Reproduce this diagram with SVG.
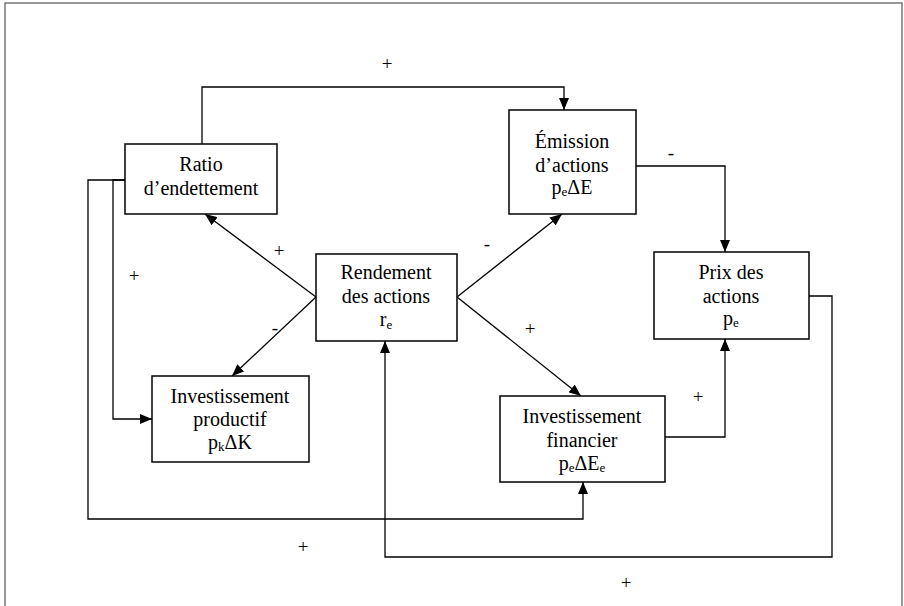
<svg xmlns="http://www.w3.org/2000/svg" width="904" height="606" viewBox="0 0 904 606">
<defs>
<style>
.box{fill:#fff;stroke:#000;stroke-width:1.5}
.ln{fill:none;stroke:#000;stroke-width:1.3}
.t{font-family:'Liberation Serif','Times New Roman',Times,serif;font-size:20px;fill:#000;text-anchor:middle}
.s{font-size:13px}
.lbl{font-family:'Liberation Serif','Times New Roman',Times,serif;font-size:19px;fill:#000;text-anchor:middle}
</style>
<marker id="ah" viewBox="0 0 12 10" refX="12" refY="5" markerWidth="12" markerHeight="10" markerUnits="userSpaceOnUse" orient="auto">
<path d="M0,0 L12,5 L0,10 z" fill="#000"/>
</marker>
</defs>
<rect x="5" y="3" width="897" height="610" fill="#fff" stroke="#555" stroke-width="1.2"/>

<g id="connectors">
<polyline class="ln" points="202,144 202,87 564,87 564,110" marker-end="url(#ah)"/>
<polyline class="ln" points="636,166 725,166 725,252" marker-end="url(#ah)"/>
<line class="ln" x1="316" y1="297" x2="205" y2="214" marker-end="url(#ah)"/>
<line class="ln" x1="316" y1="297" x2="232" y2="376" marker-end="url(#ah)"/>
<line class="ln" x1="457" y1="297" x2="562" y2="214" marker-end="url(#ah)"/>
<line class="ln" x1="457" y1="297" x2="581" y2="396" marker-end="url(#ah)"/>
<polyline class="ln" points="125,180 88,180 88,519 583,519 583,482" marker-end="url(#ah)"/>
<polyline class="ln" points="125,180 113,180 113,419 152,419" marker-end="url(#ah)"/>
<polyline class="ln" points="809,296 832,296 832,557 385,557 385,341" marker-end="url(#ah)"/>
<polyline class="ln" points="665,437 725,437 725,339" marker-end="url(#ah)"/>
<text class="lbl" x="387" y="70">+</text>
<text class="lbl" x="671" y="159">-</text>
<text class="lbl" x="279" y="257">+</text>
<text class="lbl" x="275" y="334">-</text>
<text class="lbl" x="487" y="250">-</text>
<text class="lbl" x="530" y="335">+</text>
<text class="lbl" x="134" y="282">+</text>
<text class="lbl" x="303" y="553">+</text>
<text class="lbl" x="698" y="403">+</text>
<text class="lbl" x="626" y="589">+</text>
</g>

<g id="ratio">
<rect class="box" x="125" y="144" width="152" height="70"/>
<text class="t" x="201" y="171">Ratio</text>
<text class="t" x="201" y="195">d’endettement</text>
</g>

<g id="emission">
<rect class="box" x="509" y="110" width="127" height="104"/>
<text class="t" x="572" y="148">Émission</text>
<text class="t" x="572" y="172">d’actions</text>
<text class="t" x="572" y="194">p<tspan class="s" dy="2">e</tspan><tspan dy="-2">ΔE</tspan></text>
</g>

<g id="rendement">
<rect class="box" x="316" y="254" width="141" height="87"/>
<text class="t" x="386" y="279">Rendement</text>
<text class="t" x="386" y="303">des actions</text>
<text class="t" x="386" y="326">r<tspan class="s" dy="3">e</tspan></text>
</g>

<g id="prix">
<rect class="box" x="654" y="252" width="155" height="87"/>
<text class="t" x="731" y="279">Prix des</text>
<text class="t" x="731" y="303">actions</text>
<text class="t" x="731" y="325">p<tspan class="s" dy="2">e</tspan></text>
</g>

<g id="invprod">
<rect class="box" x="152" y="376" width="157" height="86"/>
<text class="t" x="230" y="403">Investissement</text>
<text class="t" x="230" y="426">productif</text>
<text class="t" x="230" y="449">p<tspan class="s" dy="2">k</tspan><tspan dy="-2">ΔK</tspan></text>
</g>

<g id="invfin">
<rect class="box" x="500" y="396" width="165" height="86"/>
<text class="t" x="582" y="423">Investissement</text>
<text class="t" x="582" y="447">financier</text>
<text class="t" x="582" y="470">p<tspan class="s" dy="2">e</tspan><tspan dy="-2">ΔE</tspan><tspan class="s" dy="2">e</tspan></text>
</g>
</svg>
